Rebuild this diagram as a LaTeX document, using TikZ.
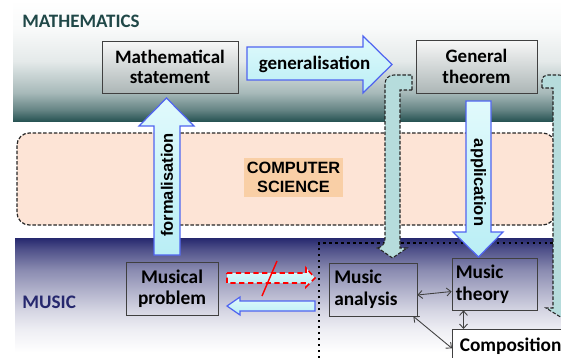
\documentclass[tikz,border=0pt]{standalone}
\usepackage{fontspec}
\setmainfont{Carlito}
\newfontfamily\arialfont{Liberation Sans}
\usetikzlibrary{arrows.meta}

\definecolor{mathteal}{RGB}{35,80,80}
\definecolor{musicnavy}{RGB}{38,40,110}
\definecolor{cspeach}{RGB}{253,228,214}
\definecolor{cshighlight}{RGB}{249,207,166}
\definecolor{arrowtop}{RGB}{225,250,252}
\definecolor{arrowbottom}{RGB}{185,238,245}
\definecolor{arrowblue}{RGB}{80,100,240}
\definecolor{bracketfill}{RGB}{182,220,220}
\definecolor{boxborder}{RGB}{64,64,64}
\definecolor{boxgray}{RGB}{172,182,182}

\pgfdeclareverticalshading{mathband}{100bp}{color(0bp)=(mathteal); color(25bp)=(mathteal);
  color(30bp)=(mathteal!70!white); color(37bp)=(mathteal!40!white); color(50bp)=(mathteal!12!white);
  color(63bp)=(mathteal!3!white); color(75bp)=(white); color(100bp)=(white)}
\pgfdeclareverticalshading{musicband}{100bp}{color(0bp)=(white); color(25bp)=(white);
  color(35bp)=(musicnavy!8!white); color(43bp)=(musicnavy!19!white); color(52bp)=(musicnavy!36!white);
  color(61bp)=(musicnavy!54!white); color(70bp)=(musicnavy!81!white); color(75bp)=(musicnavy); color(100bp)=(musicnavy)}

\tikzset{
    mathbox/.style = {draw = boxborder, top color = gray!6, bottom color = boxgray, align = center,
        font = \fontsize{10.8}{11.5}\selectfont\bfseries, inner sep = 0pt},
    musicbox/.style = {draw = boxborder, align = left, text width = 1.55cm, inner sep = 0pt,
        font = \fontsize{11}{12.5}\selectfont\bfseries},
    blockarrow/.style = {draw = arrowblue, line width = 0.7pt, top color = arrowtop, bottom color = arrowbottom},
    noarrow/.style = {blockarrow, draw = red, line width = 0.9pt, dash pattern = on 3pt off 2pt},
    bracket/.style = {draw = black!85, fill = bracketfill, line width = 0.6pt, dash pattern = on 2pt off 1pt},
    arrowlabel/.style = {font = \arialfont\fontsize{9.4}{11}\selectfont\bfseries, inner sep = 0pt},
    link/.style = {{Straight Barb[length = 2.5pt, width = 4.5pt]}-{Straight Barb[length = 2.5pt, width = 4.5pt]},
        draw = black!75, line width = 0.5pt}
}

\begin{document}
\begin{tikzpicture}[x = 0.02cm, y = -0.02cm]
        \useasboundingbox (0, 0) rectangle (561, 358);
        \clip (0, 0) rectangle (561, 358);

        % the two bands
        \shade [shading = mathband] (13, 0) rectangle (561, 122);
        \shade [shading = musicband] (15, 238) rectangle (561, 352);
        \node [anchor = base west, inner sep = 0pt, text = mathteal!90!black,
            font = \fontsize{10.8}{12}\selectfont\bfseries] (mathlabel) at (22, 28) {MATHEMATICS};
        \node [anchor = base west, inner sep = 0pt, text = musicnavy,
            font = \fontsize{10.9}{12}\selectfont\bfseries] (musiclabel) at (22, 308) {MUSIC};

        % computer science in between
        \draw [fill = cspeach, draw = black!85, line width = 0.7pt, dash pattern = on 2pt off 1pt,
            rounded corners = 7pt] (17, 133) rectangle (555, 225);
        \node [fill = cshighlight, align = center, inner xsep = 1.5pt, inner ysep = 2.5pt,
            font = \arialfont\fontsize{9.3}{11}\selectfont\bfseries] (cs) at (293.5, 177.5) {COMPUTER\\SCIENCE};

        % dotted corner of the music part
        \draw [dotted, line width = 1.4pt] (319, 358) -- (319, 243) -- (561, 243);

        % the bent arrows
        \draw [bracket] (412, 90) -- (412, 75) {[rounded corners = 5pt] -- (385, 75) -- (385, 248)}
            -- (378, 248) -- (392.5, 258) -- (407, 248) -- (400, 248) -- (400, 90) -- cycle;
        \draw [bracket] (542, 88) {[rounded corners = 3pt] -- (542, 75)} {[rounded corners = 5pt] -- (568, 75) -- (568, 308)}
            -- (575, 308) -- (560.5, 317) -- (546, 308) -- (553, 308) -- (553, 88) -- cycle;

        % block arrows
        \draw [blockarrow] (247, 47) -- (363, 47) -- (363, 36) -- (392, 64.5) -- (363, 93) -- (363, 80) -- (247, 80) -- cycle;
        \node [font = \fontsize{10.8}{12}\selectfont\bfseries, inner sep = 0pt] (generalise) at (314.5, 64) {generalisation};
        \draw [blockarrow] (154, 255) -- (154, 126) -- (139, 126) -- (166.5, 98) -- (194, 126) -- (180, 126) -- (180, 255) -- cycle;
        \node [arrowlabel, rotate = 90] (formalise) at (167, 185) {formalisation};
        \draw [blockarrow] (466, 101) -- (491, 101) -- (491, 232) -- (503, 232) -- (478.5, 257) -- (453, 232) -- (466, 232) -- cycle;
        \node [arrowlabel, rotate = -90] (apply) at (478.5, 182.5) {application};
        \draw [noarrow] (227, 273) -- (306, 273) -- (306, 268) -- (315, 278) -- (306, 287) -- (306, 283) -- (227, 283) -- cycle;
        \draw [red, line width = 0.8pt] (277, 261) -- (262, 296);
        \draw [blockarrow] (315, 301) -- (240, 301) -- (240, 297) -- (227, 306) -- (240, 315) -- (240, 311) -- (315, 311) -- cycle;

        % boxes
        \node [mathbox, minimum width = 2.72cm, minimum height = 1.04cm] (statement) at (170, 67) {Mathematical\\statement};
        \node [mathbox, minimum width = 2.42cm, minimum height = 1.06cm] (theorem) at (476.5, 66.5) {General\\theorem};
        \node [draw = boxborder, align = center, minimum width = 1.84cm, minimum height = 1.06cm, inner sep = 0pt,
            font = \fontsize{11}{12}\selectfont\bfseries] (problem) at (172, 288.5) {Musical\\problem};
        \node [musicbox, minimum width = 1.76cm, minimum height = 1.06cm] (analysis) at (373, 289.5) {Music\\analysis};
        \node [musicbox, minimum width = 1.7cm, minimum height = 1.04cm] (musictheory) at (494.5, 284) {Music\\theory};
        \node [draw = boxborder, fill = white, anchor = north west, minimum width = 2.6cm, minimum height = 0.68cm,
            text width = 2.3cm, align = left, inner xsep = 0.1cm, inner ysep = 0pt,
            font = \fontsize{11}{12}\selectfont\bfseries] (composition) at (452, 329) {Composition};

        % links between the music parts
        \draw [link] ([yshift = -0.11cm] analysis.east) -- ([yshift = -0.15cm] musictheory.west);
        \draw [link] ([xshift = -0.62cm] musictheory.south) -- ([xshift = -0.62cm] musictheory.south |- composition.north);
        \draw [link] ([xshift = -0.08cm] analysis.south east) -- ([yshift = -0.04cm] composition.west);
    \end{tikzpicture}
\end{document}
